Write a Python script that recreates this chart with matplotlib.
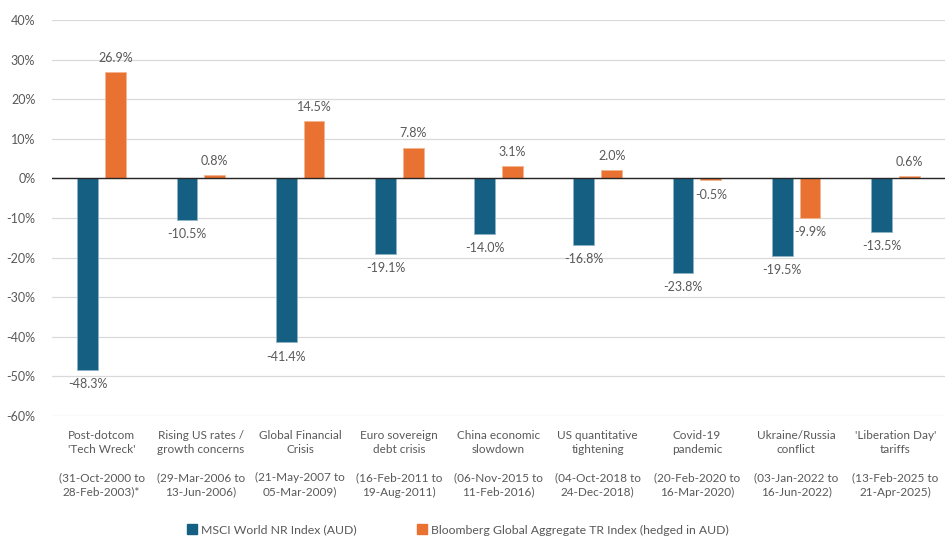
import matplotlib
matplotlib.use("Agg")
import matplotlib.pyplot as plt
import numpy as np
from matplotlib.ticker import FuncFormatter
from matplotlib.lines import Line2D

plt.rcParams['font.family'] = ['Lato', 'DejaVu Sans']

events = ["Post-dotcom\n'Tech Wreck'", "Rising US rates /\ngrowth concerns",
          "Global Financial\nCrisis", "Euro sovereign\ndebt crisis",
          "China economic\nslowdown", "US quantitative\ntightening",
          "Covid-19\npandemic", "Ukraine/Russia\nconflict",
          "'Liberation Day'\ntariffs"]
periods = ["(31-Oct-2000 to\n28-Feb-2003)*", "(29-Mar-2006 to\n13-Jun-2006)",
           "(21-May-2007 to\n05-Mar-2009)", "(16-Feb-2011 to\n19-Aug-2011)",
           "(06-Nov-2015 to\n11-Feb-2016)", "(04-Oct-2018 to\n24-Dec-2018)",
           "(20-Feb-2020 to\n16-Mar-2020)", "(03-Jan-2022 to\n16-Jun-2022)",
           "(13-Feb-2025 to\n21-Apr-2025)"]
msci = [-48.3, -10.5, -41.4, -19.1, -14.0, -16.8, -23.8, -19.5, -13.5]
bloomberg = [26.9, 0.8, 14.5, 7.8, 3.1, 2.0, -0.5, -9.9, 0.6]
series_names = ["MSCI World NR Index (AUD)",
                "Bloomberg Global Aggregate TR Index (hedged in AUD)"]

blue = "#156082"
orange = "#E97132"
txt = "#595959"

fig = plt.figure(figsize=(9.52, 5.48), dpi=100)
ax = fig.add_axes([52/952, 1-416/548, (945-52)/952, (416-20)/548])

x = np.arange(len(events))
w = 0.21
off = 0.14
b1 = ax.bar(x - off, msci, w, color=blue, edgecolor="#8fb3c7", linewidth=0.6, zorder=3)
b2 = ax.bar(x + off, bloomberg, w, color=orange, edgecolor="#f4b48f", linewidth=0.6, zorder=3)

for bars, vals in ((b1, msci), (b2, bloomberg)):
    for rect, v in zip(bars, vals):
        cx = rect.get_x() + rect.get_width()/2
        ax.annotate(f"{v:.1f}%", (cx, v), xytext=(0, 6 if v >= 0 else -6),
                    textcoords="offset points", ha="center",
                    va="bottom" if v >= 0 else "top", fontsize=9, color=txt)

ax.set_xlim(-0.5, len(events) - 0.5)
ax.set_ylim(-60, 40)
ax.set_yticks(np.arange(-60, 41, 10))
ax.yaxis.set_major_formatter(FuncFormatter(lambda v, p: f"{v:.0f}%"))
ax.grid(axis="y", color="#D9D9D9", linewidth=0.9, zorder=0)
ax.axhline(0, color="#262626", linewidth=1.0, zorder=4)
for s in ax.spines.values():
    s.set_visible(False)
ax.tick_params(axis="both", length=0, labelsize=9, labelcolor=txt)
ax.tick_params(axis="y", pad=12)
ax.set_xticks(x)
ax.set_xticklabels([f"{e}\n\n{p}" for e, p in zip(events, periods)],
                   linespacing=1.35, fontsize=8.5)
ax.tick_params(axis="x", pad=10)

handles = [Line2D([], [], ls="none", marker="s", markersize=6.5, color=c, label=n)
           for c, n in zip((blue, orange), series_names)]
fig.legend(handles=handles, loc="center", bbox_to_anchor=(458/952, 1-530/548),
           ncol=2, frameon=False, fontsize=8.8, labelcolor=txt,
           handlelength=0.8, columnspacing=5.0, handletextpad=0.3)

fig.savefig("out.png", dpi=100)
